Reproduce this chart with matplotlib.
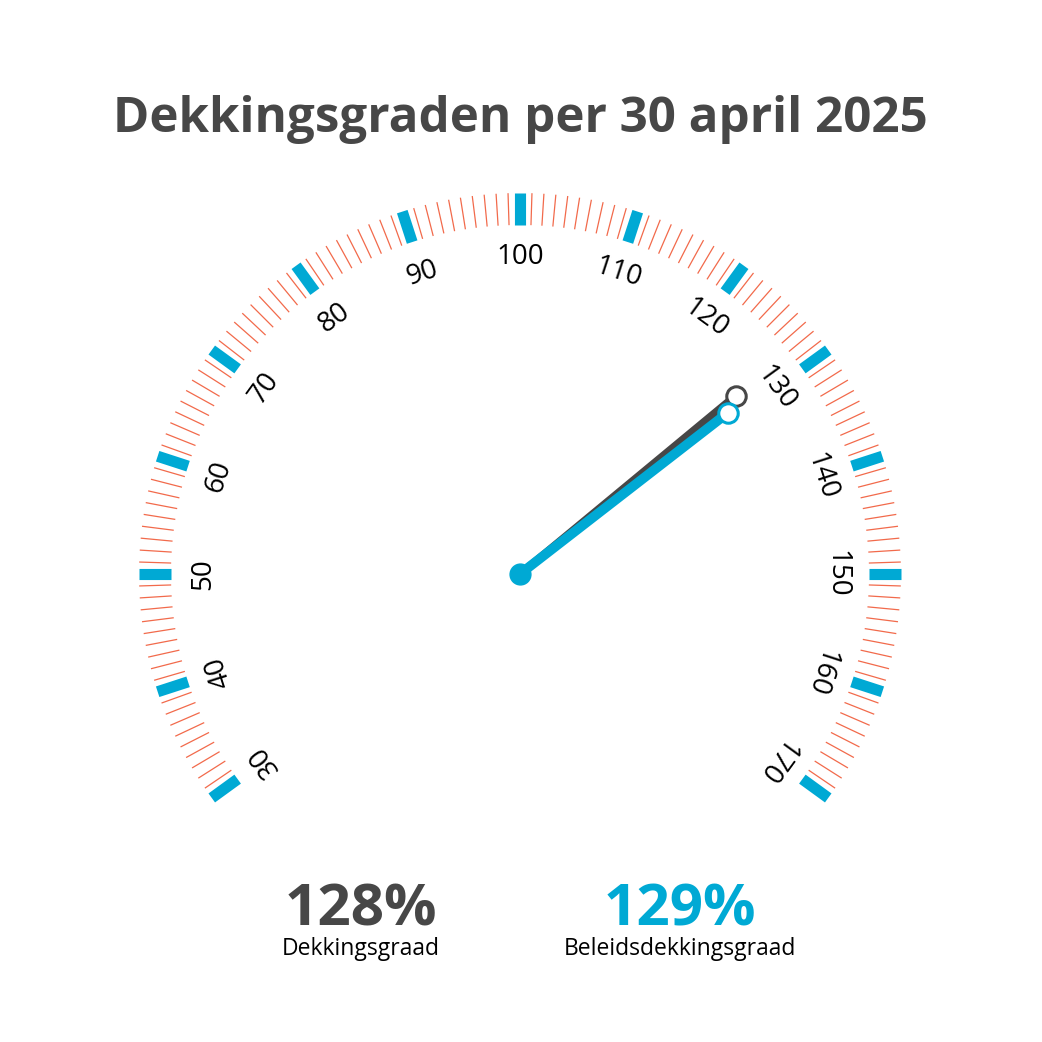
import numpy as np
import matplotlib
matplotlib.use("Agg")
import matplotlib.pyplot as plt

# ---- data ----
gauge_min = 30
gauge_max = 170
major_values = [30, 40, 50, 60, 70, 80, 90, 100, 110, 120, 130, 140, 150, 160, 170]
major_labels = ["30", "40", "50", "60", "70", "80", "90", "100", "110", "120", "130", "140", "150", "160", "170"]
minor_values = [v for v in range(gauge_min, gauge_max + 1) if v % 10 != 0]
dekkingsgraad = 128
beleidsdekkingsgraad = 129
title = "Dekkingsgraden per 30 april 2025"
label_dg = "Dekkingsgraad"
label_bdg = "Beleidsdekkingsgraad"

# ---- style ----
BLUE = "#00A9D4"
DARK = "#474747"
CORAL = "#F26A4B"
FONT = ["Open Sans", "DejaVu Sans"]

W = H = 1042
DPI = 100
fig = plt.figure(figsize=(W / DPI, H / DPI), dpi=DPI)
fig.patch.set_facecolor("white")

# polar axes centred on gauge center (520, 574) px with radius 400 px
cx, cy, R = 520, 574, 400
ax = fig.add_axes([(cx - R) / W, (H - cy - R) / H, 2 * R / W, 2 * R / H], projection="polar")
ax.set_theta_offset(np.pi / 2)
ax.set_theta_direction(-1)
ax.set_rlim(0, R)
ax.axis("off")


def theta(v):
    return np.deg2rad((v - 100) * 1.8)


r_in, r_out = 349, 381
for v in minor_values:
    t = theta(v)
    ax.plot([t, t], [r_in, r_out], color=CORAL, lw=0.9, solid_capstyle="butt", clip_on=False)
for v in major_values:
    t = theta(v)
    ax.plot([t, t], [r_in, r_out], color=BLUE, lw=8, solid_capstyle="butt", clip_on=False)

for v, lab in zip(major_values, major_labels):
    ax.text(theta(v), 320, lab, rotation=-(v - 100) * 1.8, rotation_mode="anchor",
            ha="center", va="center_baseline", fontsize=20, color="black", family=FONT)

# needles
td = theta(dekkingsgraad)
tb = theta(beleidsdekkingsgraad)
ax.plot([td, td], [0, 280], color=DARK, lw=5.5, solid_capstyle="butt", clip_on=False)
ax.plot([td], [280], marker="o", ms=14, mfc="white", mec=DARK, mew=2.2, clip_on=False)
ax.plot([tb, tb], [0, 263], color=BLUE, lw=7, solid_capstyle="butt", clip_on=False)
ax.plot([tb], [263], marker="o", ms=14, mfc="white", mec=BLUE, mew=2.2, clip_on=False)
ax.plot([0], [0], marker="o", ms=15, color=BLUE, clip_on=False)

# texts
fig.text(520 / W, 1 - 119 / H, title, ha="center", va="center", fontsize=35.5,
         fontweight="bold", color=DARK, family=FONT)
fig.text(361 / W, 1 - 910 / H, f"{dekkingsgraad}%", ha="center", va="center", fontsize=42,
         fontweight="bold", color=DARK, family=FONT)
fig.text(361 / W, 1 - 949 / H, label_dg, ha="center", va="center", fontsize=16.5,
         color="black", family=FONT)
fig.text(680 / W, 1 - 910 / H, f"{beleidsdekkingsgraad}%", ha="center", va="center", fontsize=42,
         fontweight="bold", color=BLUE, family=FONT)
fig.text(680 / W, 1 - 949 / H, label_bdg, ha="center", va="center", fontsize=16.5,
         color="black", family=FONT)

fig.savefig("out.png", dpi=DPI, facecolor="white")
